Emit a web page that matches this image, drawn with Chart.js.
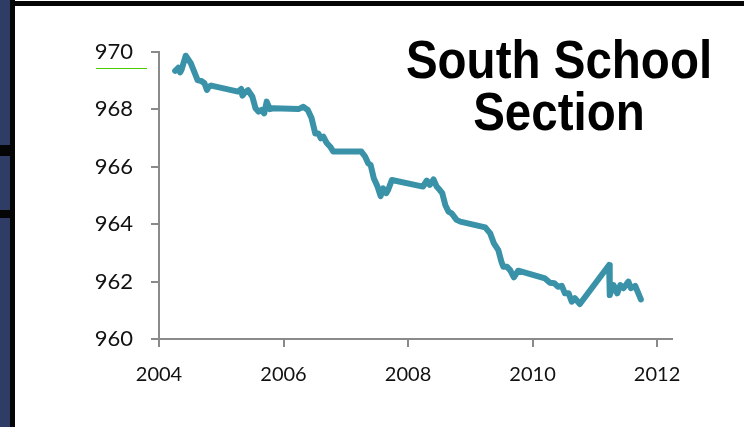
<!DOCTYPE html>
<html>
<head>
<meta charset="utf-8">
<script src="https://cdn.jsdelivr.net/npm/chart.js@4.4.1/dist/chart.umd.min.js"></script>
<style>
  body { margin: 0; background: #fff; }
  #wrap { position: relative; width: 744px; height: 427px; overflow: hidden; background: #fff; }
  #levelChart { position: absolute; left: 0; top: 0; }
  .side { position: absolute; left: 0; top: 0; width: 11px; height: 427px; background: #2f3c66; }
  .sideEdge { position: absolute; left: 10px; top: 0; width: 5px; height: 427px; background: #050505; }
  .topEdge { position: absolute; left: 10px; top: 1px; width: 734px; height: 5px; background: #050505; }
  .notch { position: absolute; left: 0; width: 12px; background: #050505; }
  .mark { position: absolute; left: 96px; top: 68px; width: 51px; height: 1px; background: #4ccc00; }
  #title {
    position: absolute; left: 359px; top: 33px; width: 400px;
    font-family: "Liberation Sans", Arial, sans-serif; font-weight: bold;
    font-size: 54px; line-height: 52px; color: #000; text-align: center;
    transform: scaleX(0.88); transform-origin: 200px 0; white-space: nowrap;
  }
</style>
</head>
<body>
<div id="wrap">
  <canvas id="levelChart" width="744" height="427"></canvas>
  <div class="side"></div>
  <div class="notch" style="top:145px;height:11px"></div>
  <div class="notch" style="top:210px;height:8px"></div>
  <div class="sideEdge"></div>
  <div class="topEdge"></div>
  <div class="mark"></div>
  <div id="title">South School<br>Section</div>
</div>

<script>
// water level readings, decimal year vs level
var years = [
  2004.26, 2004.31, 2004.34, 2004.36, 2004.43, 2004.51, 2004.62, 2004.68, 2004.73, 2004.77,
  2004.80, 2004.84, 2005.27, 2005.32, 2005.34, 2005.38, 2005.43, 2005.50, 2005.55, 2005.60,
  2005.65, 2005.69, 2005.73, 2005.78, 2005.84, 2006.24, 2006.32, 2006.39, 2006.45, 2006.51,
  2006.56, 2006.60, 2006.64, 2006.69, 2006.75, 2006.80, 2007.25, 2007.31, 2007.36, 2007.40,
  2007.45, 2007.51, 2007.56, 2007.60, 2007.65, 2007.68, 2007.74, 2008.24, 2008.30, 2008.35,
  2008.41, 2008.46, 2008.51, 2008.55, 2008.60, 2008.65, 2008.70, 2008.78, 2008.84, 2009.24,
  2009.32, 2009.38, 2009.45, 2009.50, 2009.53, 2009.59, 2009.64, 2009.70, 2009.77, 2010.20,
  2010.28, 2010.35, 2010.41, 2010.47, 2010.52, 2010.58, 2010.63, 2010.68, 2010.76, 2011.23,
  2011.24, 2011.30, 2011.36, 2011.41, 2011.46, 2011.54, 2011.58, 2011.65, 2011.74
];
var levels = [
  969.34, 969.45, 969.29, 969.37, 969.87, 969.61, 969.02, 968.99, 968.91, 968.68,
  968.79, 968.83, 968.62, 968.71, 968.48, 968.59, 968.67, 968.44, 968.04, 967.92,
  967.98, 967.86, 968.27, 968.01, 968.04, 968.01, 968.09, 967.98, 967.70, 967.16,
  967.16, 966.99, 967.05, 966.84, 966.70, 966.53, 966.53, 966.36, 966.12, 966.06,
  965.60, 965.31, 964.98, 965.25, 965.08, 965.19, 965.54, 965.31, 965.52, 965.37,
  965.56, 965.31, 965.19, 965.08, 964.66, 964.44, 964.38, 964.15, 964.09, 963.89,
  963.68, 963.33, 963.10, 962.69, 962.52, 962.52, 962.40, 962.15, 962.38, 962.11,
  961.96, 961.94, 961.82, 961.85, 961.59, 961.59, 961.30, 961.42, 961.22, 962.58,
  961.53, 961.88, 961.59, 961.88, 961.77, 962.00, 961.77, 961.85, 961.38
];
var yearTicks = [2004, 2006, 2008, 2010, 2012];
var levelTicks = [960, 962, 964, 966, 968, 970];

var axisGrey = '#8a8a8a';

function init() {
  var points = [];
  for (var i = 0; i < years.length; i++) {
    points.push({ x: years[i], y: levels[i] });
  }
  drawChart(points);
}

function drawChart(points) {
  var ctx = document.getElementById('levelChart').getContext('2d');
  var chart = new Chart(ctx, {
    type: 'line',
    data: {
      datasets: [{
        data: points,
        borderColor: '#3a92a9',
        borderWidth: 6,
        pointRadius: 0,
        tension: 0,
        borderCapStyle: 'round',
        borderJoinStyle: 'round'
      }]
    },
    options: {
      responsive: false,
      animation: false,
      layout: { padding: { top: 52, right: 72, bottom: 0, left: 0 } },
      plugins: { legend: { display: false }, tooltip: { enabled: false } },
      scales: {
        x: {
          type: 'linear',
          min: yearTicks[0],
          max: 2012.24,
          afterFit: function(scale) { scale.height = 88; },
          afterBuildTicks: function(scale) {
            scale.ticks = yearTicks.map(function(v) { return { value: v }; });
          },
          border: { color: axisGrey, width: 2 },
          grid: { drawOnChartArea: false, drawTicks: true, tickLength: 8, color: axisGrey, lineWidth: 2 },
          ticks: {
            padding: 16,
            maxRotation: 0,
            color: '#111',
            font: { family: 'Lato', size: 20 },
            callback: function(v) { return String(v); }
          }
        },
        y: {
          min: levelTicks[0],
          max: levelTicks[levelTicks.length - 1],
          afterFit: function(scale) { scale.width = 159; },
          afterBuildTicks: function(scale) {
            scale.ticks = levelTicks.map(function(v) { return { value: v }; });
          },
          border: { color: axisGrey, width: 2 },
          grid: { drawOnChartArea: false, drawTicks: true, tickLength: 8, color: axisGrey, lineWidth: 2 },
          ticks: {
            padding: 18,
            color: '#111',
            font: { family: 'Lato', size: 22 },
            callback: function(v) { return String(v); }
          }
        }
      }
    }
  });
}

init();
</script>
</body>
</html>
